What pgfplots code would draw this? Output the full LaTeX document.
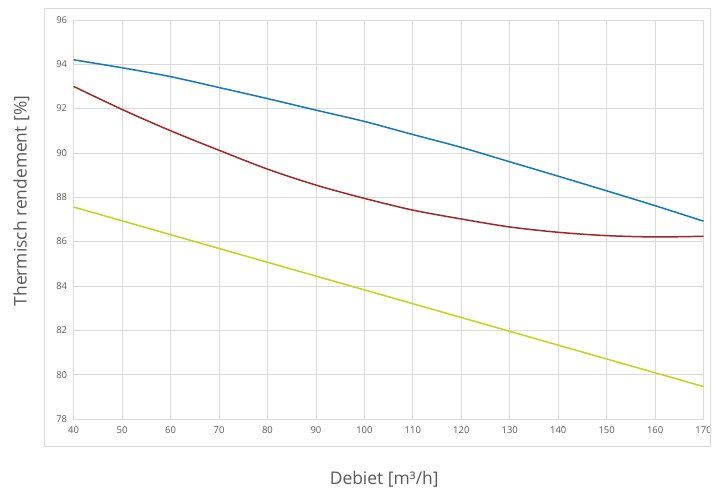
\documentclass[border=0pt]{standalone}
\usepackage{pgfplots}
\pgfplotsset{compat=1.18}
\usepackage{fontspec}
\setmainfont{Open Sans}
\definecolor{txtgray}{HTML}{595959}
\definecolor{gridgray}{HTML}{D9D9D9}
\definecolor{cblue}{HTML}{0F77BE}
\definecolor{cred}{HTML}{A32626}
\definecolor{cgreen}{HTML}{C2D31A}
\begin{document}
\begin{tikzpicture}
\begin{axis}[
    at={(0,0)}, anchor=south west,
    scale only axis, width=633pt, height=401pt,
    xmin=40, xmax=170, ymin=78, ymax=96,
    xtick={40,50,...,170}, ytick={78,80,...,96},
    grid=major,
    grid style={gridgray, line width=0.8pt},
    axis line style={gridgray, line width=0.8pt},
    major tick length=0pt,
    tick label style={font=\fontsize{9.5}{11}\selectfont, text=txtgray},
    /pgf/number format/assume math mode=true,
    xticklabel style={yshift=-4pt},
    yticklabel style={xshift=-3pt},
    xlabel={Debiet [m³/h]},
    ylabel={Thermisch rendement [\%]},
    label style={font=\fontsize{17.5}{20}\selectfont, text=txtgray},
    xlabel style={at={(axis description cs:0.493,-0.152)}, anchor=center},
    ylabel style={at={(axis description cs:-0.083,0.546)}, anchor=center},
    clip=false,
]
\addplot[cblue, line width=1.5pt, smooth] coordinates {
    (40,94.20) (50,93.84) (60,93.44) (70,92.95) (80,92.45) (90,91.93)
    (100,91.42) (110,90.83) (120,90.25) (130,89.60) (140,88.95)
    (150,88.29) (160,87.62) (170,86.92)
};
\addplot[cred, line width=1.5pt, smooth] coordinates {
    (40,93.00) (50,91.96) (60,91.00) (70,90.12) (80,89.27) (90,88.55)
    (100,87.95) (110,87.42) (120,87.02) (130,86.66) (140,86.42)
    (150,86.27) (160,86.21) (170,86.24)
};
\addplot[cgreen, line width=1.5pt] coordinates {
    (40,87.56) (170,79.46)
};
\end{axis}
\draw[gridgray, line width=0.8pt] (-29pt,-28pt) rectangle (640pt,413pt);
\useasboundingbox (-74pt,-71pt) rectangle (641pt,421pt);
\end{tikzpicture}
\end{document}
